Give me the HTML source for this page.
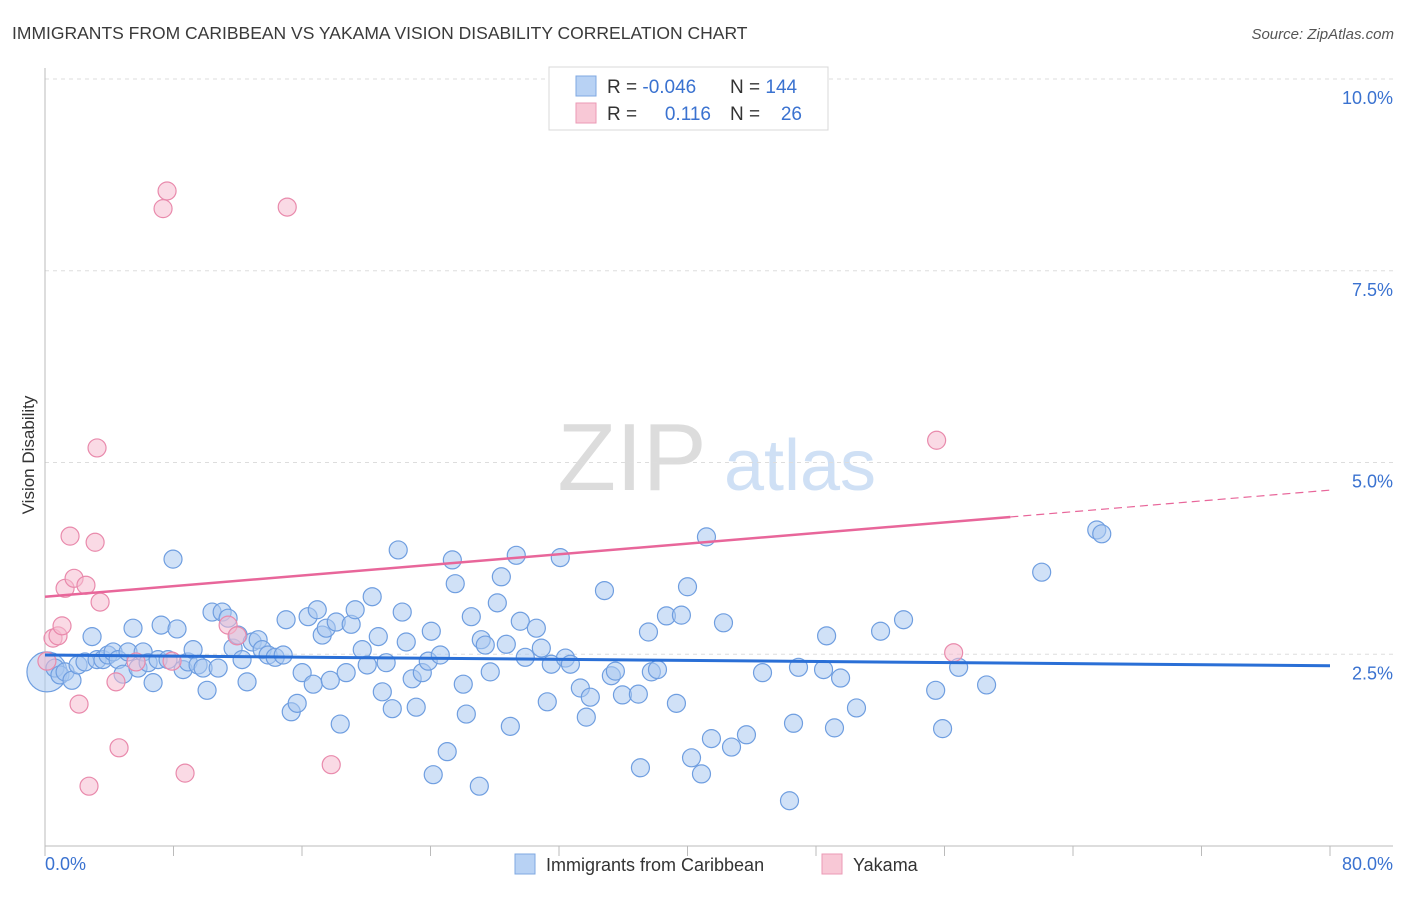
<!DOCTYPE html>
<html><head><meta charset="utf-8">
<style>
body{margin:0;background:#fff;font-family:"Liberation Sans",sans-serif;}
svg text{font-family:"Liberation Sans",sans-serif;}
</style></head>
<body>
<svg id="chart" width="1406" height="892" viewBox="0 0 1406 892" xmlns="http://www.w3.org/2000/svg">
<rect width="1406" height="892" fill="#fff"/>
<text x="12" y="39" font-size="17.5" fill="#3a3a3a">IMMIGRANTS FROM CARIBBEAN VS YAKAMA VISION DISABILITY CORRELATION CHART</text>
<text x="1394" y="39" font-size="15" fill="#555" text-anchor="end" font-style="italic">Source: ZipAtlas.com</text>
<g>
<text x="632" y="490" font-size="96" fill="#dcdcdc" font-family="Liberation Serif" text-anchor="middle">ZIP</text>
<text x="800" y="490" font-size="72" fill="#cfe0f5" text-anchor="middle">atlas</text>
</g>
<g id="grid"></g>
<g id="axes"></g>
<g id="trend"></g>
<g id="pts"></g>
<text transform="translate(34,455) rotate(-90)" font-size="17" fill="#333" text-anchor="middle">Vision Disability</text>
<g>
<rect x="549" y="67" width="279" height="63" fill="#fff" stroke="#d8d8d8"/>
<rect x="576" y="76" width="20" height="20" fill="#b8d2f4" stroke="#7fa8e2"/>
<rect x="576" y="103" width="20" height="20" fill="#f8c8d6" stroke="#eb9ab5"/>
<text x="607" y="93" font-size="19" fill="#333">R = <tspan fill="#3a72d0">-0.046</tspan></text>
<text x="730" y="93" font-size="19" fill="#333">N = <tspan fill="#3a72d0">144</tspan></text>
<text x="607" y="120" font-size="19" fill="#333">R = </text>
<text x="711" y="120" font-size="19" fill="#3a72d0" text-anchor="end">0.116</text>
<text x="730" y="120" font-size="19" fill="#333">N = </text>
<text x="802" y="120" font-size="19" fill="#3a72d0" text-anchor="end">26</text>
</g>
<g>
<rect x="515" y="854" width="20" height="20" fill="#b8d2f4" stroke="#7fa8e2"/>
<text x="546" y="871" font-size="18" fill="#333">Immigrants from Caribbean</text>
<rect x="822" y="854" width="20" height="20" fill="#f8c8d6" stroke="#eb9ab5"/>
<text x="853" y="871" font-size="18" fill="#333">Yakama</text>
</g>
</svg>
<script>
const blueX=[0.12,0.62,0.93,1.25,1.68,2.06,2.49,2.93,3.24,3.61,3.92,4.24,4.55,4.86,5.17,5.48,5.79,6.11,6.42,6.73,7.04,7.23,7.66,7.97,8.22,8.60,8.91,9.22,9.53,9.84,10.09,10.40,10.78,11.03,11.40,11.71,12.02,12.27,12.58,12.90,13.27,13.52,13.89,14.33,14.83,15.01,15.33,15.70,16.01,16.38,16.70,16.95,17.26,17.51,17.76,18.13,18.38,18.75,19.06,19.31,19.75,20.06,20.37,20.75,21.00,21.24,21.62,21.99,22.24,22.49,22.86,23.11,23.49,23.86,24.05,24.17,24.61,25.04,25.36,25.54,26.04,26.23,26.54,27.04,27.16,27.41,27.72,28.16,28.41,28.72,28.97,29.34,29.59,29.90,30.59,30.90,31.27,31.52,32.08,32.40,32.71,33.33,33.70,33.95,34.83,35.26,35.51,35.95,36.94,37.07,37.57,37.75,38.13,38.69,39.31,39.62,40.00,40.25,40.87,41.18,41.49,42.24,42.74,43.67,44.67,46.35,46.60,46.91,48.47,48.66,49.15,49.53,50.52,52.02,53.45,55.45,55.88,56.88,58.62,62.05,65.48,65.79];
const blueY=[2.27,2.32,2.23,2.27,2.16,2.36,2.40,2.73,2.43,2.43,2.49,2.53,2.43,2.24,2.53,2.84,2.32,2.53,2.39,2.13,2.43,2.88,2.43,3.74,2.83,2.30,2.40,2.56,2.36,2.32,2.03,3.05,2.32,3.05,2.97,2.58,2.75,2.43,2.14,2.66,2.69,2.56,2.49,2.46,2.49,2.95,1.75,1.86,2.26,2.99,2.11,3.08,2.75,2.84,2.16,2.92,1.59,2.26,2.89,3.08,2.56,2.36,3.25,2.73,2.01,2.39,1.79,3.86,3.05,2.66,2.18,1.81,2.26,2.41,2.80,0.93,2.49,1.23,3.73,3.42,2.11,1.72,2.99,0.78,2.69,2.62,2.27,3.17,3.51,2.63,1.56,3.79,2.93,2.46,2.84,2.58,1.88,2.37,3.76,2.45,2.37,2.06,1.68,1.94,3.33,2.22,2.28,1.97,1.98,1.02,2.79,2.27,2.30,3.00,1.86,3.01,3.38,1.15,0.94,4.03,1.40,2.91,1.29,1.45,2.26,0.59,1.60,2.33,2.30,2.74,1.54,2.19,1.80,2.80,2.95,2.03,1.53,2.33,2.10,3.57,4.12,4.07];
const pinkX=[0.12,0.50,0.81,1.06,1.25,1.56,1.81,2.12,2.55,2.74,3.12,3.24,3.43,4.42,4.61,5.67,7.35,7.60,7.91,8.72,11.40,11.96,15.08,17.82,55.51,56.57];
const pinkY=[2.41,2.71,2.74,2.87,3.36,4.04,3.49,1.85,3.40,0.78,3.96,5.19,3.18,2.14,1.28,2.40,8.31,8.54,2.41,0.95,2.88,2.74,8.33,1.06,5.29,2.52];
const blueTrend=[2.49,2.35];
const pinkTrend=[3.25,4.29,4.64];
const pinkSolidEnd=60.1;
const yTicks=[2.5,5.0,7.5,10.0];
const yTickLabels=["2.5%","5.0%","7.5%","10.0%"];
const xTickCount=10;
const xLabels=["0.0%","80.0%"];

const NS="http://www.w3.org/2000/svg";
const X0=45,X1=1330,Y0=846,PXY=76.7;
const sx=v=>X0+v*(X1-X0)/80;
const sy=v=>Y0-v*PXY;
function mk(tag,attrs,parent){const e=document.createElementNS(NS,tag);for(const k in attrs)e.setAttribute(k,attrs[k]);parent.appendChild(e);return e;}
const grid=document.getElementById('grid'),axes=document.getElementById('axes'),trend=document.getElementById('trend'),pts=document.getElementById('pts');
yTicks.forEach((t,i)=>{
  const l=mk('line',{x1:X0,x2:1393,y1:sy(t),y2:sy(t),stroke:'#ddd','stroke-dasharray':'4,4'},grid);
  
  
  const tx=mk('text',{x:1393,y:sy(t)+25,'font-size':18,fill:'#3a72d0','text-anchor':'end'},grid);
  tx.textContent=yTickLabels[i];
  
  
});
const ya=mk('line',{x1:X0,x2:X0,y1:68,y2:Y0,stroke:'#bbb'},axes);


const xa=mk('line',{x1:X0,x2:1393,y1:Y0,y2:Y0,stroke:'#bbb'},axes);


for(let i=0;i<=xTickCount;i++){
  const v=i*80/xTickCount;
  const t=mk('line',{x1:sx(v),x2:sx(v),y1:Y0,y2:Y0+10,stroke:'#bbb'},axes);
  
  
}
const xl0=mk('text',{x:45,y:870,'font-size':18,fill:'#3a72d0'},axes);xl0.textContent=xLabels[0];


const xl1=mk('text',{x:1393,y:870,'font-size':18,fill:'#3a72d0','text-anchor':'end'},axes);xl1.textContent=xLabels[1];



function dot(x,y,r,fill,stroke,name){
  const c=mk('circle',{cx:sx(x),cy:sy(y),r:r,fill:fill,'fill-opacity':0.55,stroke:stroke,'stroke-width':1.2},pts);
  
  
}
blueX.forEach((x,i)=>dot(x,blueY[i],i===0?20:9,'#aac8f0','#6f9ee0','caribbean-point'));
pinkX.forEach((x,i)=>dot(x,pinkY[i],9,'#f6bccf','#e98aac','yakama-point'));

const bt=mk('line',{x1:sx(0),y1:sy(blueTrend[0]),x2:sx(80),y2:sy(blueTrend[1]),stroke:'#2a6fd6','stroke-width':3},trend);


const pt=mk('line',{x1:sx(0),y1:sy(pinkTrend[0]),x2:sx(pinkSolidEnd),y2:sy(pinkTrend[1]),stroke:'#e8669a','stroke-width':2.5},trend);


const pd=mk('line',{x1:sx(pinkSolidEnd),y1:sy(pinkTrend[1]),x2:sx(80),y2:sy(pinkTrend[2]),stroke:'#e8669a','stroke-width':1.2,'stroke-dasharray':'8,5'},trend);


document.getElementById('chart').appendChild(trend);
</script>
</body></html>
